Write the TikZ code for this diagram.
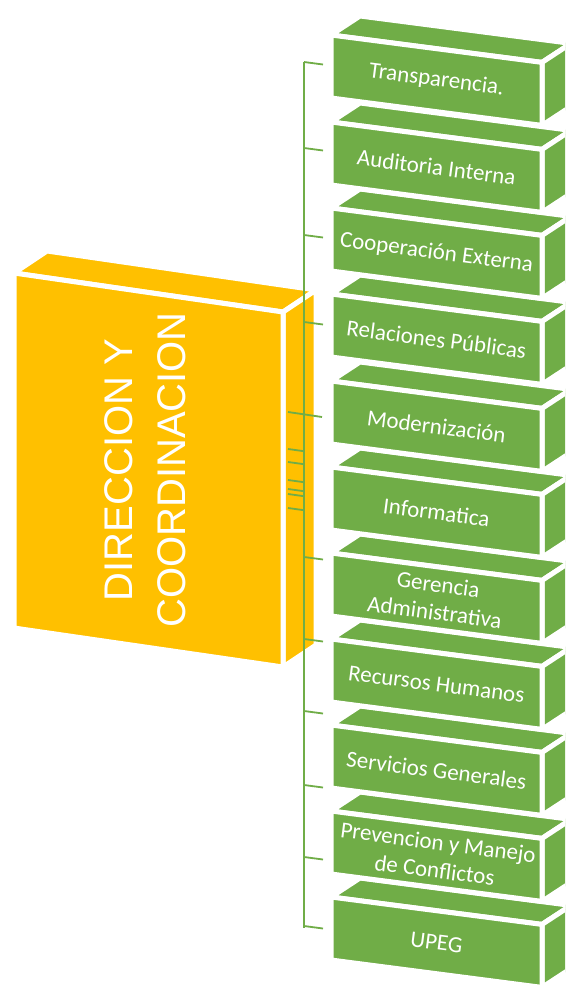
\documentclass[tikz,border=0pt]{standalone}
\usepackage{fontspec}
\setmainfont{Carlito}
\newfontfamily\yfont{Liberation Sans}
\definecolor{ofgreen}{RGB}{112,173,71}
\definecolor{ofyellow}{RGB}{255,192,0}
\tikzset{
  face/.style={draw=white, line width=5pt, line join=round},
  gface/.style={face, fill=ofgreen},
  yface/.style={face, fill=ofyellow},
  gtext/.style={text=white, font=\fontsize{23}{28}\selectfont, align=center, rotate=-7.4, inner sep=0pt},
  ytext/.style={text=white, font=\yfont\fontsize{40}{53}\selectfont, align=center, rotate=90, inner sep=0pt},
  conn/.style={draw=ofgreen, line width=1.8pt},
}
\newcommand\greenbox[3]{%
  \path[gface] (331,#2) -- (360,{#2-19}) -- (571,{#2+8.4}) -- (542,{#2+27.4}) -- cycle;
  \path[gface] (542,{#2+27.4}) -- (571,{#2+8.4}) -- (571,{#2+71.4}) -- (542,{#2+90.4}) -- cycle;
  \path[gface] (331,#2) -- (542,{#2+27.4}) -- (542,{#2+90.4}) -- (331,{#2+63}) -- cycle;
  \node[gtext] (#1) at (436.5,{#2+45.2}) {#3};
}
\begin{document}
\begin{tikzpicture}[x=1pt,y=-1pt]
\useasboundingbox (0,0) rectangle (565,985);
\clip (0,0) rectangle (565,985);
% yellow box
\path[yface] (14,273) -- (47,251) -- (316,290) -- (283,312) -- cycle;
\path[yface] (283,312) -- (316,290) -- (316,645) -- (283,667) -- cycle;
\path[yface] (14,273) -- (283,312) -- (283,667) -- (14,628) -- cycle;
\node[ytext] (dir) at (145,470) {DIRECCION Y\\COORDINACION};
% green boxes, bottom to top
\greenbox{b11}{897}{UPEG}
\greenbox{b10}{811}{Prevencion y Manejo\\de Conflictos}
\greenbox{b9}{725}{Servicios Generales}
\greenbox{b8}{639}{Recursos Humanos}
\greenbox{b7}{553}{Gerencia\\Administrativa}
\greenbox{b6}{467}{Informatica}
\greenbox{b5}{381}{Modernización}
\greenbox{b4}{294}{Relaciones Públicas}
\greenbox{b3}{208}{Cooperación Externa}
\greenbox{b2}{122}{Auditoria Interna}
\greenbox{b1}{35}{Transparencia.}
% connectors
\coordinate (spinetop) at (304,62);
\coordinate (spinebot) at (304,928);
\draw[conn] (spinetop) -- (spinebot);
\foreach \y [count=\i] in {62,148,235,322,557,639,711,785,857,926}{
  \coordinate (ra\i) at (304,\y);
  \coordinate (rb\i) at (323,{\y+2.5});
  \draw[conn] (ra\i) -- (rb\i);
}
\coordinate (ma) at (288,412);
\coordinate (mb) at (322,417);
\draw[conn] (ma) -- (mb);
\foreach \y [count=\i] in {449,462,480,489,494,508}{
  \coordinate (la\i) at (288,\y);
  \coordinate (lb\i) at (304,{\y+2.2});
  \draw[conn] (la\i) -- (lb\i);
}
\end{tikzpicture}
\end{document}
